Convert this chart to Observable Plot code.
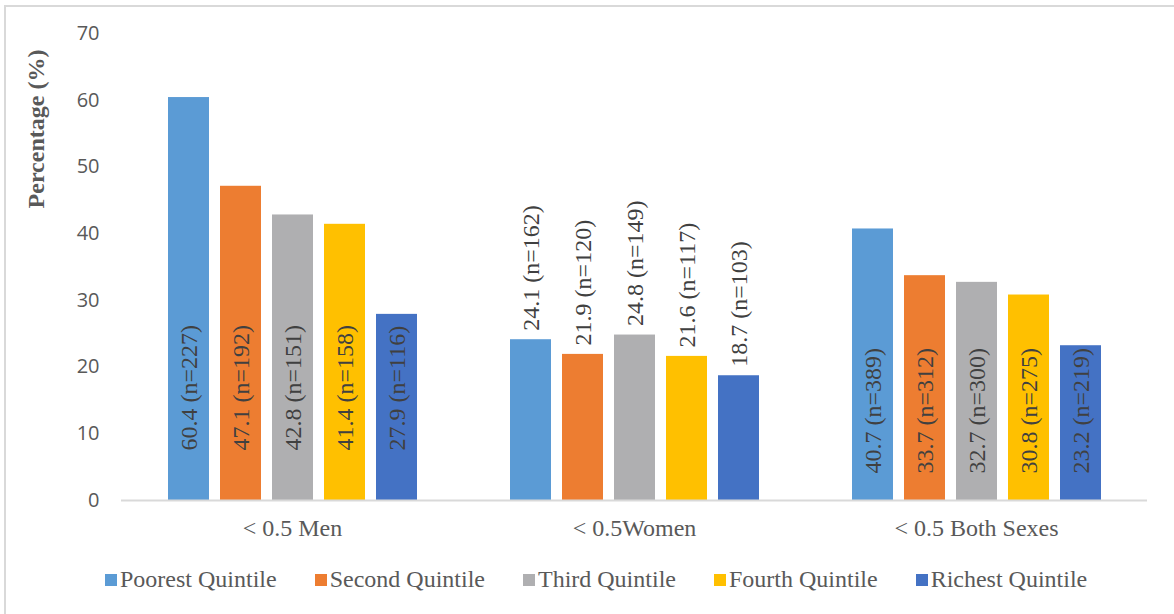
<!DOCTYPE html>
<html>
<head>
<meta charset="utf-8">
<script src="https://cdn.jsdelivr.net/npm/d3@7"></script>
<script src="https://cdn.jsdelivr.net/npm/@observablehq/plot@0.6"></script>
<style>
  html, body { margin: 0; padding: 0; background: white; }
  #wrap { position: relative; width: 1174px; height: 614px; overflow: hidden; background: white; }
  #frame { position: absolute; left: 4px; top: 5px; right: -10px; bottom: -10px; border-top: 2px solid #d9d9d9; border-left: 2px solid #d9d9d9; pointer-events: none; }
  #chart { position: absolute; left: 0; top: 0; }
  #ytitle { position: absolute; left: 36px; top: 129px; transform: translate(-50%, -50%) rotate(-90deg); white-space: nowrap;
    font-family: "Liberation Serif", "Times New Roman", serif; font-weight: bold; font-size: 24px; color: #595959; }
  #legend { position: absolute; left: 105px; top: 566px; display: flex; gap: 38px; align-items: center;
    font-family: "Liberation Serif", "Times New Roman", serif; font-size: 24px; color: #595959; white-space: nowrap; }
  #legend .item { display: flex; align-items: center; gap: 3px; }
  #legend .sw { width: 12px; height: 12px; display: inline-block; }
  #chart svg g[aria-label="text"] text { font-family: "Liberation Serif", "Times New Roman", serif; }
</style>
</head>
<body>
<div id="wrap">
  <div id="chart"></div>
  <div id="ytitle">Percentage (%)</div>
  <div id="legend"></div>
  <div id="frame"></div>
</div>
<script>
const groups = ["< 0.5 Men", "< 0.5Women", "< 0.5 Both Sexes"];
const quintiles = ["Poorest Quintile", "Second Quintile", "Third Quintile", "Fourth Quintile", "Richest Quintile"];
const colors = ["#5b9bd5", "#ed7d31", "#afafb1", "#ffc000", "#4472c4"];
const menValues = [60.4, 47.1, 42.8, 41.4, 27.9];
const menN = [227, 192, 151, 158, 116];
const womenValues = [24.1, 21.9, 24.8, 21.6, 18.7];
const womenN = [162, 120, 149, 117, 103];
const bothValues = [40.7, 33.7, 32.7, 30.8, 23.2];
const bothN = [389, 312, 300, 275, 219];
const yTicks = [0, 10, 20, 30, 40, 50, 60, 70];

const seriesByGroup = [[menValues, menN], [womenValues, womenN], [bothValues, bothN]];
const data = [];
groups.forEach((g, gi) => {
  const [vals, ns] = seriesByGroup[gi];
  quintiles.forEach((q, qi) => {
    data.push({group: g, quintile: q, value: vals[qi], n: ns[qi], label: `${vals[qi].toFixed(1)} (n=${ns[qi]})`});
  });
});

const serif = "Liberation Serif, Times New Roman, serif";
const labelStyle = {fontFamily: serif, fontSize: 24, fill: "#404040", rotate: -90, textAnchor: "start", lineAnchor: "middle"};

const chart = Plot.plot({
  width: 1174,
  height: 550,
  marginLeft: 120,
  marginRight: 26,
  marginTop: 33,
  marginBottom: 50,
  style: {fontFamily: serif, fontSize: "22px", color: "#595959", background: "white"},
  fx: {domain: groups, padding: 0, label: null, axis: null},
  x: {domain: quintiles, paddingInner: 0.22, paddingOuter: 0.86, axis: null},
  y: {domain: [0, 70], label: null},
  color: {domain: quintiles, range: colors},
  marks: [
    Plot.axisY({ticks: yTicks, tickSize: 0, tickPadding: 22, fontSize: 20, fontFamily: "Open Sans", fill: "#595959", label: null}),
    Plot.axisFx({anchor: "bottom", tickSize: 0, tickPadding: 18, fontSize: 24, fontFamily: serif, fill: "#595959", label: null}),
    Plot.barY(data, {fx: "group", x: "quintile", y: "value", fill: "quintile"}),
    Plot.ruleY([0], {stroke: "#d9d9d9", strokeWidth: 2}),
    Plot.text(data.filter(d => d.group === groups[0]), {fx: "group", x: "quintile", y: () => 0, text: "label", dy: -50, ...labelStyle}),
    Plot.text(data.filter(d => d.group === groups[2]), {fx: "group", x: "quintile", y: () => 0, text: "label", dy: -27, ...labelStyle}),
    Plot.text(data.filter(d => d.group === groups[1]), {fx: "group", x: "quintile", y: "value", text: "label", dy: -9, ...labelStyle})
  ]
});
document.getElementById("chart").appendChild(chart);

const legend = document.getElementById("legend");
quintiles.forEach((q, i) => {
  const item = document.createElement("div");
  item.className = "item";
  const sw = document.createElement("span");
  sw.className = "sw";
  sw.style.background = colors[i];
  const t = document.createElement("span");
  t.textContent = q;
  item.appendChild(sw);
  item.appendChild(t);
  legend.appendChild(item);
});
</script>
</body>
</html>
